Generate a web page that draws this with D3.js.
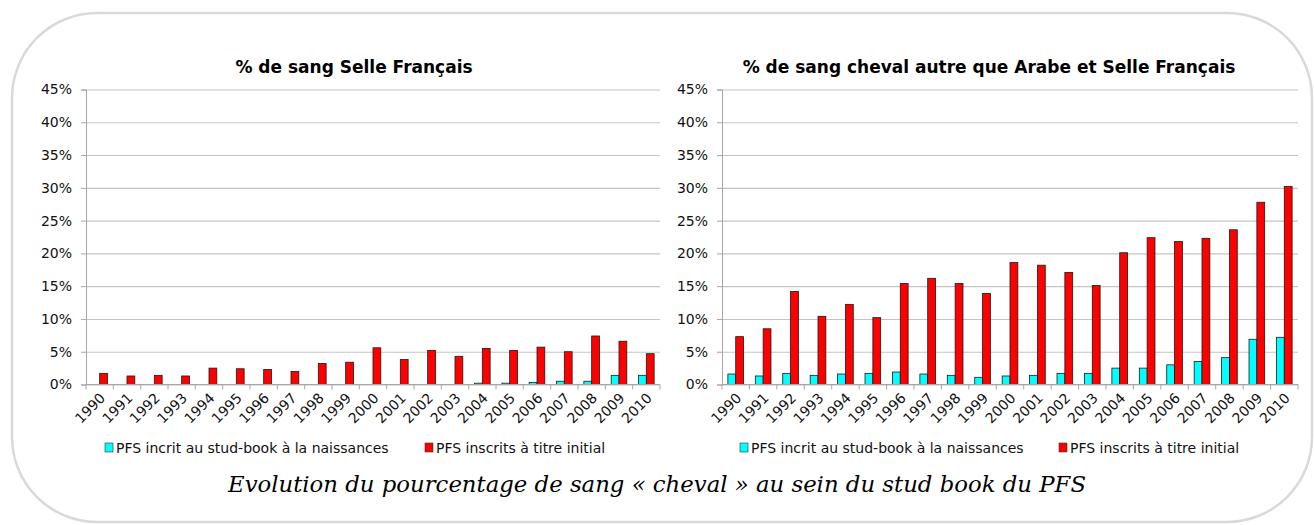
<!DOCTYPE html>
<html lang="fr">
<head>
<meta charset="UTF-8">
<title>Evolution du pourcentage de sang cheval</title>
<script src="https://d3js.org/d3.v7.min.js"></script>
<style>
    body { margin: 0; background: #fff; }
    svg { display: block; }
    .tick text { font-family: "DejaVu Sans", Verdana, sans-serif; font-size: 14px; fill: #111; }
    .title { font-family: "DejaVu Sans", Verdana, sans-serif; font-size: 17px; font-weight: bold; fill: #000; }
    .legend text { font-family: "DejaVu Sans", Verdana, sans-serif; font-size: 14px; fill: #111; }
    .caption { font-family: "DejaVu Serif", "Liberation Serif", serif; font-style: italic; font-size: 23px; fill: #000; }
</style>
</head>
<body>
<svg width="1314" height="525"></svg>
<script>
    // données
    const years = ["1990", "1991", "1992", "1993", "1994", "1995", "1996", "1997", "1998", "1999", "2000",
        "2001", "2002", "2003", "2004", "2005", "2006", "2007", "2008", "2009", "2010"];
    const seriesNames = ["PFS incrit au stud-book à la naissances", "PFS inscrits à titre initial"];
    const seriesColors = ["#00ffff", "#ff0000"];
    const yTicks = [0, 5, 10, 15, 20, 25, 30, 35, 40, 45];

    // % de sang Selle Français
    const sfNaissance = [0, 0, 0, 0, 0, 0, 0, 0, 0, 0, 0, 0, 0, 0, 0.2, 0.2, 0.3, 0.5, 0.5, 1.4, 1.4];
    const sfInitial = [1.7, 1.3, 1.4, 1.3, 2.5, 2.4, 2.3, 2.0, 3.2, 3.4, 5.6, 3.8, 5.2, 4.3, 5.5, 5.2, 5.7, 5.0, 7.4, 6.6, 4.7];

    // % de sang cheval autre que Arabe et Selle Français
    const autreNaissance = [1.6, 1.3, 1.7, 1.4, 1.6, 1.7, 1.9, 1.6, 1.4, 1.1, 1.3, 1.4, 1.7, 1.7, 2.5, 2.5, 3.0, 3.5, 4.1, 6.9, 7.2];
    const autreInitial = [7.3, 8.5, 14.2, 10.4, 12.2, 10.2, 15.4, 16.2, 15.4, 13.9, 18.6, 18.2, 17.1, 15.1, 20.1, 22.4, 21.8, 22.3, 23.6, 27.8, 30.2];

    const svg = d3.select("svg");

    // cadre arrondi
    svg.append("rect")
        .attr("x", 12).attr("y", 13)
        .attr("width", 1300).attr("height", 509)
        .attr("rx", 85).attr("ry", 85)
        .attr("fill", "none")
        .attr("stroke", "#d9d9d9")
        .attr("stroke-width", 2.5);

    const plotTop = 89.5, plotBottom = 384.5;

    function drawChart(cfg) {
        const g = svg.append("g");

        const x = d3.scaleBand().domain(years).range([cfg.x0, cfg.x1]);
        const xs = d3.scaleBand().domain([0, 1]).range([0, x.bandwidth()]).paddingOuter(0.75);
        const y = d3.scaleLinear().domain([0, 45]).range([plotBottom, plotTop]);

        // grille
        g.append("g")
            .attr("transform", `translate(${cfg.x0},0)`)
            .call(d3.axisLeft(y).tickValues(yTicks).tickSize(-(cfg.x1 - cfg.x0)).tickFormat(""))
            .call(a => a.select(".domain").remove())
            .call(a => a.selectAll("line").attr("stroke", "#c4c4c4").attr("stroke-width", 1.1));

        // axe vertical
        g.append("g")
            .attr("transform", `translate(${cfg.x0},0)`)
            .call(d3.axisLeft(y).tickValues(yTicks).tickSize(5).tickPadding(9).tickFormat(d => d + "%"))
            .call(a => a.select(".domain").attr("stroke", "#a6a6a6"))
            .call(a => a.selectAll(".tick line").attr("stroke", "#a6a6a6"));

        // barres
        const data = [cfg.naissance, cfg.initial];
        data.forEach((vals, s) => {
            g.selectAll(null)
                .data(vals.map((v, i) => ({ year: years[i], v: v })))
                .enter()
                .append("rect")
                .attr("x", d => x(d.year) + xs(s))
                .attr("width", xs.bandwidth())
                .attr("y", d => y(d.v))
                .attr("height", d => y(0) - y(d.v))
                .attr("fill", seriesColors[s])
                .attr("stroke", "#1a1a1a")
                .attr("stroke-width", 0.8);
        });

        // axe horizontal
        const xAxis = g.append("g").attr("transform", `translate(0,${plotBottom})`);
        xAxis.append("line")
            .attr("x1", cfg.x0).attr("x2", cfg.x1)
            .attr("stroke", "#a6a6a6");
        const bounds = years.map(yr => x(yr)).concat([cfg.x1]);
        xAxis.selectAll(".bt")
            .data(bounds)
            .enter()
            .append("line")
            .attr("x1", d => d).attr("x2", d => d)
            .attr("y1", 0).attr("y2", 5)
            .attr("stroke", "#a6a6a6");
        xAxis.selectAll(".yl")
            .data(years)
            .enter()
            .append("text")
            .attr("transform", d => `translate(${x(d) + x.bandwidth() / 2 + 3},${11}) rotate(-45)`)
            .attr("text-anchor", "end")
            .attr("dy", "0.35em")
            .style("font-family", "DejaVu Sans, Verdana, sans-serif")
            .style("font-size", "14px")
            .style("fill", "#111")
            .text(d => d);

        // titre
        g.append("text")
            .attr("class", "title")
            .attr("x", cfg.titleX)
            .attr("y", 73)
            .attr("text-anchor", "middle")
            .text(cfg.title);

        // légende
        const lg = g.append("g").attr("class", "legend");
        cfg.legendX.forEach((lx, s) => {
            lg.append("rect")
                .attr("x", lx).attr("y", 443)
                .attr("width", 8).attr("height", 9)
                .attr("fill", seriesColors[s])
                .attr("stroke", "#333")
                .attr("stroke-width", 0.6);
            lg.append("text")
                .attr("x", lx + 11).attr("y", 453)
                .text(seriesNames[s]);
        });
    }

    drawChart({
        x0: 86, x1: 660, title: "% de sang Selle Français", titleX: 354,
        naissance: sfNaissance, initial: sfInitial, legendX: [105, 425]
    });
    drawChart({
        x0: 722, x1: 1298, title: "% de sang cheval autre que Arabe et Selle Français", titleX: 989,
        naissance: autreNaissance, initial: autreInitial, legendX: [740, 1059]
    });

    // légende du document
    svg.append("text")
        .attr("class", "caption")
        .attr("x", 657)
        .attr("y", 492)
        .attr("text-anchor", "middle")
        .attr("textLength", 858)
        .attr("lengthAdjust", "spacingAndGlyphs")
        .text("Evolution du pourcentage de sang « cheval » au sein du stud book du PFS");
</script>
</body>
</html>
